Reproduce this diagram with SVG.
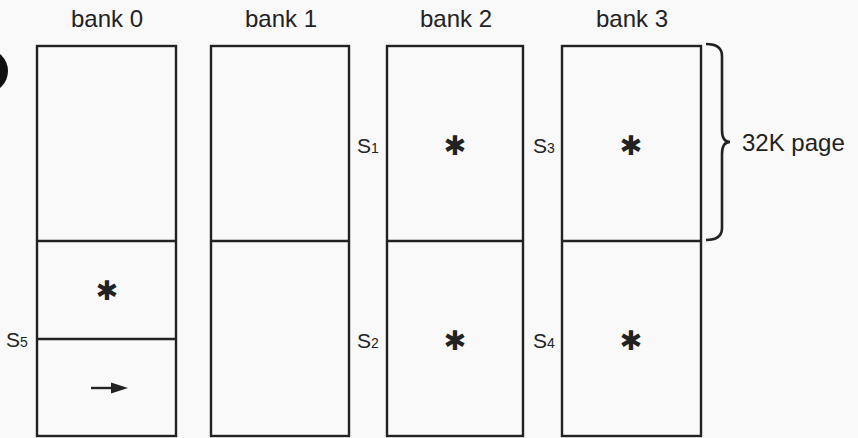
<svg xmlns="http://www.w3.org/2000/svg" width="858" height="438" viewBox="0 0 858 438">
<style>
.bk{fill:none;stroke:#222;stroke-width:2.4}
.ln{stroke:#222;stroke-width:2.4}
.t{font-family:"Liberation Sans",Arial,sans-serif;font-size:24px;fill:#222}
.s{font-family:"Liberation Sans",Arial,sans-serif;font-size:21px;fill:#222}
.sub{font-size:14px}
.ast{font-family:"DejaVu Sans",sans-serif;font-size:27px;fill:#222;text-anchor:middle}
</style>
<rect width="858" height="438" fill="#f9f9f9"/>
<circle cx="-14" cy="71" r="22" fill="#111"/>
<g id="bank0">
<text class="t" x="107" y="27" text-anchor="middle">bank 0</text>
<rect class="bk" x="37" y="46" width="139" height="390"/>
<line class="ln" x1="37" y1="241" x2="176" y2="241"/>
<line class="ln" x1="37" y1="339" x2="176" y2="339"/>
<text class="ast" x="107" y="300">✱</text>
<text class="s" x="6" y="347">S<tspan class="sub">5</tspan></text>
<line class="ln" x1="91" y1="388" x2="116" y2="388" stroke-width="3.5"/>
<polygon points="111,382.5 128,388 111,393.5" fill="#222"/>
</g>
<g id="bank1">
<text class="t" x="281" y="27" text-anchor="middle">bank 1</text>
<rect class="bk" x="211" y="46" width="138" height="390"/>
<line class="ln" x1="211" y1="241" x2="349" y2="241"/>
</g>
<g id="bank2">
<text class="t" x="456" y="27" text-anchor="middle">bank 2</text>
<rect class="bk" x="387" y="46" width="136" height="390"/>
<line class="ln" x1="387" y1="241" x2="523" y2="241"/>
<text class="ast" x="455" y="155">✱</text>
<text class="ast" x="455" y="350">✱</text>
<text class="s" x="357" y="153">S<tspan class="sub">1</tspan></text>
<text class="s" x="357" y="348">S<tspan class="sub">2</tspan></text>
</g>
<g id="bank3">
<text class="t" x="632" y="27" text-anchor="middle">bank 3</text>
<rect class="bk" x="562" y="46" width="139" height="390"/>
<line class="ln" x1="562" y1="241" x2="701" y2="241"/>
<text class="ast" x="631" y="155">✱</text>
<text class="ast" x="631" y="350">✱</text>
<text class="s" x="533" y="153">S<tspan class="sub">3</tspan></text>
<text class="s" x="533" y="348">S<tspan class="sub">4</tspan></text>
</g>
<g id="brace">
<path d="M706,44 Q722,44 722,56 L722,130 Q722,142 730,142 Q722,142 722,154 L722,228 Q722,240 706,240" fill="none" stroke="#222" stroke-width="2.6"/>
<text class="t" x="742" y="151">32K page</text>
</g>
</svg>
